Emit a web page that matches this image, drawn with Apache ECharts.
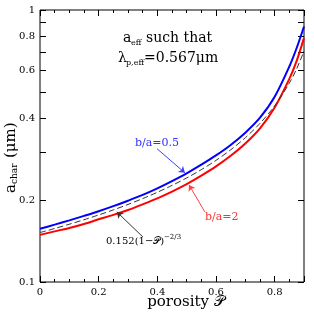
<!DOCTYPE html>
<html><head><meta charset="utf-8">
<script src="https://cdn.jsdelivr.net/npm/echarts@6/dist/echarts.min.js"></script>
<style>html,body{margin:0;padding:0;background:#fff}#c{width:314px;height:312px}</style>
</head><body><div id="c"></div>
<script>
// porosity grid (x values)
const porosity = [0,0.05,0.1,0.15,0.2,0.25,0.3,0.35,0.4,0.45,0.5,0.55,0.6,0.65,0.7,0.75,0.8,0.85,0.875,0.9];
// b/a = 0.5 (blue)
const blueVals = [0.157,0.1625,0.1685,0.175,0.182,0.190,0.199,0.209,0.221,0.235,0.251,0.270,0.292,0.319,0.354,0.402,0.480,0.620,0.725,0.870];
// b/a = 2 (red)
const redVals = [0.149,0.1535,0.158,0.1635,0.170,0.1765,0.184,0.193,0.203,0.215,0.229,0.246,0.266,0.291,0.323,0.367,0.438,0.558,0.650,0.790];
// 0.152(1-P)^(-2/3) (dashed)
const fitVals = [0.1520,0.1573,0.1631,0.1694,0.1764,0.1841,0.1928,0.2026,0.2137,0.2265,0.2413,0.2589,0.2800,0.3062,0.3392,0.3830,0.4444,0.5385,0.6080,0.7055];
const xTickLabels = [0,0.2,0.4,0.6,0.8];
const yTickValues = [0.1,0.2,0.3,0.4,0.5,0.6,0.7,0.8,0.9,1];
const yTickLabels = [0.1,0.2,0.4,0.6,0.8,1];
// annotation arrows in data coords [tail, tip]
const blueArrow = [[0.399,0.309],[0.494,0.252]];
const redArrow = [[0.562,0.181],[0.508,0.2275]];
const fitArrow = [[0.351,0.1463],[0.262,0.181]];

const zip = (xs, ys) => xs.map((x,i)=>[x, ys[i]]);
const serif = 'DejaVu Serif';
const fmt = v => String(Math.round(v*10)/10);

const xCommon = {type:'value', min:0, max:0.9, axisLine:{show:false}, splitLine:{show:false}};
const tickStyle = {color:'#000', width:1};
const yCommon = {type:'log', logBase:10, min:0.1, max:1, axisLine:{show:false}, splitLine:{show:false}, minorTick:{show:false}};

const chart = echarts.init(document.getElementById('c'), null, {renderer:'canvas'});
chart.setOption({
  animation:false,
  backgroundColor:'#fff',
  grid:[
    {left:40, right:10, top:10, bottom:30, show:true, borderColor:'#000', borderWidth:1, backgroundColor:'transparent'},
    {left:40, right:10, top:10, bottom:30, show:false}
  ],
  xAxis:[
    {...xCommon, gridIndex:0, position:'bottom', interval:0.05,
      axisTick:{inside:true, length:3, lineStyle:tickStyle},
      axisLabel:{customValues:xTickLabels, formatter:fmt, fontFamily:serif, fontSize:10, color:'#000', margin:5}},
    {...xCommon, gridIndex:0, position:'top', interval:0.05,
      axisTick:{inside:true, length:3, lineStyle:tickStyle}, axisLabel:{show:false}},
    {...xCommon, gridIndex:1, position:'bottom', interval:0.2,
      axisTick:{inside:true, length:6, lineStyle:tickStyle}, axisLabel:{show:false}},
    {...xCommon, gridIndex:1, position:'top', interval:0.2,
      axisTick:{inside:true, length:6, lineStyle:tickStyle}, axisLabel:{show:false}}
  ],
  yAxis:[
    {...yCommon, gridIndex:0, position:'left',
      axisTick:{inside:true, length:6, lineStyle:tickStyle, customValues:yTickValues},
      axisLabel:{customValues:yTickLabels, formatter:fmt, fontFamily:serif, fontSize:10, color:'#000', margin:5}},
    {...yCommon, gridIndex:1, position:'left', offset:-264,
      axisTick:{inside:false, length:6, lineStyle:tickStyle, customValues:yTickValues},
      axisLabel:{show:false}}
  ],
  series:[
    {type:'line', xAxisIndex:0, yAxisIndex:0, data:zip(porosity, blueVals), smooth:0.3, symbol:'none',
      lineStyle:{color:'#0000ff', width:2}, z:3},
    {type:'line', xAxisIndex:0, yAxisIndex:0, data:zip(porosity, redVals), smooth:0.3, symbol:'none',
      lineStyle:{color:'#ff0000', width:2}, z:3},
    {type:'line', xAxisIndex:0, yAxisIndex:0, data:zip(porosity, fitVals), smooth:0.3, symbol:'none',
      lineStyle:{color:'#333', width:1, type:[6,3]}, z:4,
      markLine:{silent:true, symbol:['none','arrow'], symbolSize:6, label:{show:false}, animation:false,
        data:[
          [{coord:blueArrow[0], lineStyle:{color:'#4040ff', width:1, type:'solid'}}, {coord:blueArrow[1]}],
          [{coord:redArrow[0], lineStyle:{color:'#ff4040', width:1, type:'solid'}}, {coord:redArrow[1]}],
          [{coord:fitArrow[0], lineStyle:{color:'#333', width:1, type:'solid'}}, {coord:fitArrow[1]}]
        ]}}
  ],
  graphic:[
    {type:'text', x:123, y:38, style:{text:'a', font:'14px "DejaVu Serif"', fill:'#000', verticalAlign:'middle'}},
    {type:'text', x:131, y:43, style:{text:'eff', font:'8px "DejaVu Serif"', fill:'#000', verticalAlign:'middle'}},
    {type:'text', x:146, y:38, style:{text:'such that', font:'14px "DejaVu Serif"', fill:'#000', verticalAlign:'middle'}},
    {type:'text', x:118, y:58, style:{text:'λ', font:'14px "DejaVu Serif"', fill:'#000', verticalAlign:'middle'}},
    {type:'text', x:126, y:63, style:{text:'p,eff', font:'8px "DejaVu Serif"', fill:'#000', verticalAlign:'middle'}},
    {type:'text', x:144, y:58, style:{text:'=0.567μm', font:'14px "DejaVu Serif"', fill:'#000', verticalAlign:'middle'}},
    {type:'text', x:135, y:143, style:{text:'b/a=0.5', font:'11px "DejaVu Serif"', fill:'#3030ff', verticalAlign:'middle'}},
    {type:'text', x:205, y:217, style:{text:'b/a=2', font:'11px "DejaVu Serif"', fill:'#ff3030', verticalAlign:'middle'}},
    {type:'text', x:106, y:241, style:{text:'0.152(1−𝒫)', font:'10px "DejaVu Serif"', fill:'#000', verticalAlign:'middle'}},
    {type:'text', x:164, y:237, style:{text:'−2/3', font:'7px "DejaVu Serif"', fill:'#000', verticalAlign:'middle'}},
    {type:'text', x:186, y:302, style:{text:'porosity 𝒫', font:'15px "DejaVu Serif"', fill:'#000', align:'center', verticalAlign:'middle'}},
    {type:'group', x:11, y:153, rotation:Math.PI/2, children:[
      {type:'text', x:-40, y:0, style:{text:'a', font:'15px "DejaVu Serif"', fill:'#000', verticalAlign:'middle'}},
      {type:'text', x:-31, y:4, style:{text:'char', font:'9px "DejaVu Serif"', fill:'#000', verticalAlign:'middle'}},
      {type:'text', x:-5, y:0, style:{text:'(μm)', font:'15px "DejaVu Serif"', fill:'#000', verticalAlign:'middle'}}
    ]}
  ]
});
</script>
</body></html>
